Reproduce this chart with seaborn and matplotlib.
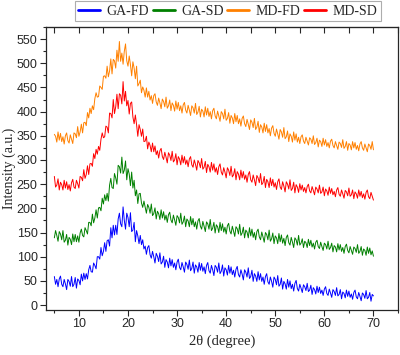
import numpy as np
import pandas as pd
import matplotlib
matplotlib.use("Agg")
import matplotlib.pyplot as plt
from matplotlib.ticker import MultipleLocator
import seaborn as sns

sns.set_style("ticks")

# 2theta grid, 0.25 degree step from 5 to 70
two_theta = np.arange(5, 70.01, 0.25)

ga_fd = [59, 43, 53, 38, 54, 60, 43, 38, 53, 44, 32, 53, 49, 39, 59, 38, 43, 57, 35, 54,
         51, 42, 64, 50, 66, 53, 65, 54, 73, 82, 69, 68, 87, 82, 75, 100, 100, 95, 119, 102,
         111, 129, 111, 133, 135, 122, 160, 139, 165, 145, 165, 146, 178, 190, 168, 162, 203, 175, 157, 190,
         181, 162, 191, 152, 155, 171, 131, 154, 143, 127, 144, 125, 135, 116, 122, 105, 119, 123, 104, 97,
         111, 100, 87, 107, 101, 90, 108, 85, 89, 101, 78, 94, 89, 77, 97, 81, 94, 78, 87, 73,
         89, 95, 78, 73, 88, 79, 68, 89, 84, 74, 93, 71, 76, 89, 66, 83, 79, 68, 88, 72,
         86, 70, 79, 65, 82, 88, 71, 66, 82, 73, 61, 82, 78, 68, 87, 65, 70, 83, 60, 77,
         73, 62, 82, 66, 79, 63, 72, 58, 74, 80, 63, 58, 73, 64, 52, 73, 68, 58, 77, 55,
         59, 72, 49, 65, 60, 49, 69, 52, 65, 49, 58, 43, 59, 65, 48, 43, 58, 49, 37, 58,
         53, 42, 61, 39, 43, 56, 33, 49, 44, 33, 53, 37, 50, 34, 43, 29, 45, 51, 34, 29,
         43, 35, 26, 42, 38, 30, 45, 28, 31, 41, 22, 36, 32, 23, 39, 26, 37, 24, 31, 20,
         33, 38, 24, 20, 33, 25, 16, 32, 28, 20, 36, 19, 22, 32, 13, 27, 24, 15, 31, 18,
         29, 16, 23, 12, 26, 31, 17, 13, 26, 18, 9, 25, 22, 14, 30, 13, 16, 26, 8, 22,
         19]

ga_sd = [139, 154, 144, 132, 152, 147, 135, 154, 130, 134, 146, 124, 140, 136, 125, 147, 131, 146, 131, 143,
         130, 149, 157, 144, 141, 160, 154, 147, 171, 171, 164, 188, 170, 180, 197, 180, 201, 202, 195, 221,
         209, 228, 216, 231, 215, 248, 262, 243, 241, 272, 263, 250, 289, 286, 273, 306, 272, 279, 298, 259,
         282, 271, 247, 275, 242, 258, 226, 238, 210, 230, 231, 211, 202, 215, 203, 190, 208, 202, 190, 209,
         185, 189, 201, 178, 194, 189, 177, 197, 180, 193, 176, 186, 171, 187, 192, 176, 170, 186, 176, 165,
         185, 181, 170, 190, 167, 172, 184, 162, 178, 174, 162, 183, 166, 179, 162, 172, 157, 174, 179, 163,
         157, 173, 163, 152, 172, 168, 157, 177, 154, 159, 171, 149, 166, 162, 150, 171, 154, 168, 151, 161,
         147, 164, 169, 153, 147, 163, 153, 142, 162, 158, 147, 167, 144, 149, 161, 139, 155, 151, 139, 160,
         143, 157, 140, 150, 135, 152, 157, 141, 135, 151, 141, 130, 150, 146, 135, 155, 132, 137, 149, 127,
         143, 139, 127, 148, 131, 145, 128, 138, 123, 140, 145, 129, 124, 140, 130, 119, 139, 135, 124, 144,
         124, 128, 137, 119, 132, 129, 119, 136, 123, 134, 120, 128, 116, 130, 134, 121, 117, 130, 121, 113,
         128, 125, 116, 132, 115, 119, 128, 110, 123, 120, 110, 127, 114, 125, 111, 119, 107, 121, 126, 113,
         108, 121, 113, 105, 120, 117, 109, 125, 107, 111, 121, 103, 116, 113, 103, 120, 107, 118, 104, 112,
         101]

md_fd = [353, 349, 337, 358, 341, 355, 338, 348, 333, 350, 356, 340, 335, 352, 343, 334, 356, 354, 346, 369,
         349, 358, 374, 356, 377, 378, 371, 398, 387, 407, 396, 412, 404, 427, 439, 430, 431, 453, 450, 446,
         473, 474, 469, 494, 472, 484, 509, 478, 508, 505, 490, 527, 504, 545, 504, 521, 498, 525, 540, 505,
         494, 515, 497, 474, 503, 490, 468, 494, 453, 458, 465, 439, 451, 444, 430, 449, 430, 442, 424, 433,
         417, 433, 437, 420, 413, 428, 418, 406, 426, 421, 410, 430, 407, 412, 424, 402, 418, 413, 401, 422,
         405, 419, 402, 412, 397, 414, 419, 403, 397, 413, 403, 392, 412, 408, 397, 417, 394, 399, 411, 389,
         405, 401, 389, 410, 393, 407, 390, 400, 385, 402, 407, 391, 385, 401, 391, 380, 400, 396, 385, 405,
         382, 386, 398, 376, 392, 387, 375, 396, 379, 392, 375, 385, 370, 386, 391, 375, 369, 384, 374, 363,
         383, 378, 367, 386, 363, 368, 380, 357, 373, 368, 356, 376, 359, 373, 356, 365, 350, 366, 371, 355,
         349, 364, 354, 343, 363, 358, 347, 367, 344, 348, 360, 338, 354, 349, 337, 358, 341, 354, 337, 347,
         334, 348, 352, 339, 334, 347, 339, 331, 346, 343, 334, 350, 332, 336, 345, 327, 341, 338, 328, 345,
         331, 342, 328, 336, 325, 339, 343, 330, 325, 338, 330, 322, 337, 334, 326, 342, 324, 328, 338, 320,
         334, 331, 321, 338, 325, 336, 322, 330, 319, 333, 338, 325, 320, 333, 325, 317, 333, 330, 322, 338,
         321]

md_sd = [266, 244, 248, 261, 238, 254, 249, 238, 258, 242, 255, 239, 249, 236, 253, 260, 244, 241, 258, 251,
         242, 266, 264, 257, 280, 262, 270, 288, 270, 292, 293, 287, 313, 303, 322, 312, 328, 320, 343, 356,
         346, 348, 370, 368, 356, 397, 396, 387, 425, 396, 410, 436, 406, 437, 434, 416, 462, 422, 442, 412,
         423, 395, 417, 420, 389, 375, 393, 373, 349, 373, 363, 349, 364, 338, 339, 349, 323, 337, 330, 317,
         335, 317, 329, 311, 319, 304, 319, 324, 307, 301, 316, 306, 294, 315, 310, 299, 318, 296, 300, 313,
         290, 307, 302, 290, 310, 294, 307, 291, 300, 286, 302, 307, 290, 285, 300, 291, 279, 299, 294, 284,
         303, 281, 285, 297, 274, 291, 286, 275, 295, 279, 292, 275, 284, 270, 286, 292, 275, 269, 284, 275,
         263, 284, 279, 268, 287, 265, 269, 282, 259, 276, 271, 259, 279, 263, 276, 260, 269, 254, 270, 276,
         259, 254, 269, 259, 247, 268, 263, 253, 272, 249, 253, 266, 243, 260, 255, 243, 263, 247, 260, 244,
         253, 239, 255, 261, 244, 239, 255, 246, 234, 255, 250, 240, 259, 237, 241, 254, 232, 249, 244, 233,
         251, 238, 248, 235, 243, 232, 245, 250, 236, 232, 245, 237, 228, 244, 240, 232, 248, 231, 234, 244,
         226, 240, 236, 227, 244, 231, 241, 228, 235, 224, 238, 243, 229, 225, 238, 230, 221, 237, 234, 226,
         242, 225, 228, 238, 220, 234, 230, 221, 238, 225, 235, 222, 230, 219, 233, 238, 224, 220, 233, 225,
         217]

samples = ["GA-FD", "GA-SD", "MD-FD", "MD-SD"]
colors = ["#0000FF", "#008000", "#FF8000", "#FF0000"]

df = pd.concat([
    pd.DataFrame({"theta": two_theta, "intensity": vals, "sample": name})
    for name, vals in zip(samples, [ga_fd, ga_sd, md_fd, md_sd])
])

fig = plt.figure(figsize=(4.0, 3.55), dpi=100)
ax = fig.add_axes([0.115, 0.127, 0.88, 0.797])

sns.lineplot(data=df, x="theta", y="intensity", hue="sample", hue_order=samples,
             palette=colors, estimator=None, linewidth=0.7, ax=ax, legend=True)

ax.set_xlim(3.3, 75)
ax.set_ylim(-10, 575)
ax.xaxis.set_major_locator(MultipleLocator(10))
ax.xaxis.set_minor_locator(MultipleLocator(5))
ax.yaxis.set_major_locator(MultipleLocator(50))
ax.yaxis.set_minor_locator(MultipleLocator(25))
ax.tick_params(which="major", direction="out", length=4, width=0.8, labelsize=9, pad=2)
ax.tick_params(which="minor", direction="out", length=2.5, width=0.8)
for lab in ax.get_xticklabels() + ax.get_yticklabels():
    lab.set_family("Liberation Sans")

top = ax.secondary_xaxis("top")
top.xaxis.set_major_locator(MultipleLocator(5))
top.tick_params(direction="in", length=4, width=0.8, labeltop=False)

for s in ax.spines.values():
    s.set_linewidth(0.9)
    s.set_visible(True)

ax.set_xlabel("2θ (degree)", family="Liberation Serif", fontsize=10.5, labelpad=3)
ax.set_ylabel("Intensity (a.u.)", family="Liberation Serif", fontsize=10)
ax.yaxis.set_label_coords(-0.085, 0.5)

leg = ax.legend(loc="lower center", bbox_to_anchor=(0.516, 1.02), ncol=4,
                frameon=True, fancybox=False, edgecolor="#999999",
                prop={"family": "Liberation Serif", "size": 10},
                handlelength=1.6, handletextpad=0.45, columnspacing=0.25,
                borderpad=0.25, borderaxespad=0)
leg.get_frame().set_linewidth(0.8)
for h in leg.get_lines():
    h.set_linewidth(2)

fig.savefig("out.png", dpi=100)
